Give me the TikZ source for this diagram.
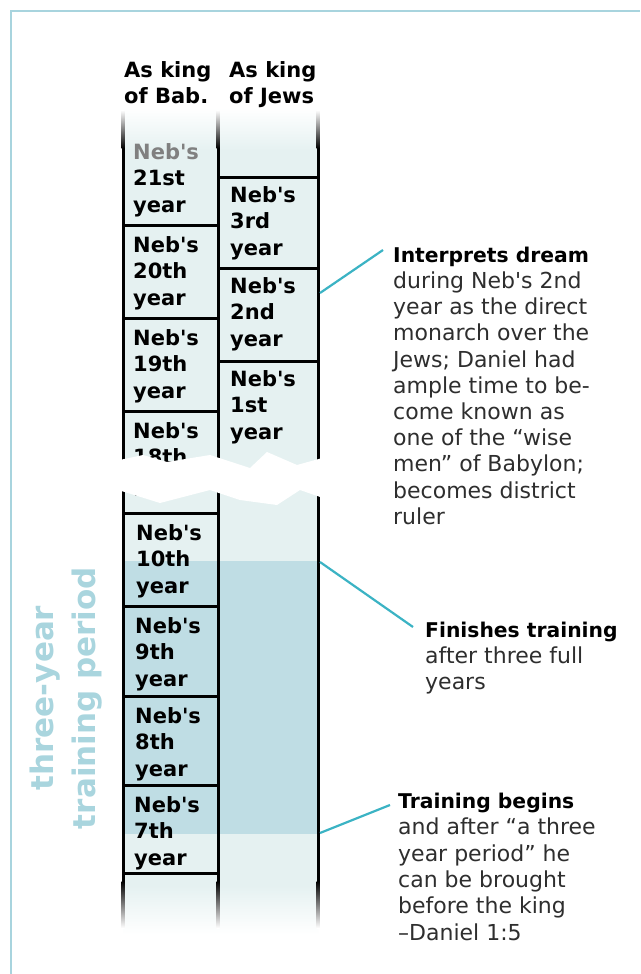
\documentclass[tikz,border=0pt]{standalone}
\usepackage{fontspec}
\setmainfont{DejaVu Sans}
\definecolor{colfill}{HTML}{E5F1F1}
\definecolor{trainfill}{HTML}{BFDDE4}
\definecolor{leadercol}{HTML}{3BB3C4}
\definecolor{labelblue}{HTML}{A9D5DE}
\definecolor{borderblue}{HTML}{A8D4DE}
\newcommand{\nebs}{Neb\textquotesingle s}
\newcommand{\annhead}[1]{{\color{black}\bfseries\fontsize{20.3}{26.2}\selectfont #1}}
\begin{document}
\begin{tikzpicture}[x=1pt,y=-1pt,
  colline/.style={line width=3pt, black},
  divline/.style={line width=3pt, black},
  boxtext/.style={anchor=north west, inner sep=0pt, align=left, font=\bfseries\fontsize{21}{26.5}\selectfont},
  headtext/.style={anchor=north west, inner sep=0pt, align=left, font=\bfseries\fontsize{21}{26}\selectfont},
  anntext/.style={anchor=north west, inner sep=0pt, align=left, font=\fontsize{22}{26.2}\selectfont, text=black!82},
  leaderline/.style={leadercol, line width=2.2pt},
  vlabel/.style={rotate=90, align=center, inner sep=0pt, text=labelblue, font=\bfseries\fontsize{31}{42}\selectfont}
]
\useasboundingbox (0,0) rectangle (640,974);
\fill[white] (0,0) rectangle (640,974);
\draw[borderblue, line width=2.5pt] (11,974) -- (11,11) -- (640,11);

% column fills
\fill[colfill] (123,150) rectangle (318,886);
\shade[top color=white, bottom color=colfill] (123,108) rectangle (318,150.5);
\shade[top color=colfill, bottom color=white] (123,885.5) rectangle (318,934);
\fill[trainfill] (123,561) rectangle (318,834);

% headers
\node[headtext] (hbab) at (124,58.8) {\strut As king\\of Bab.};
\node[headtext] (hjew) at (229,58.8) {\strut As king\\of Jews};

% dividers left column
\foreach \yy in {225,318,411,513,606,696,785,873}
  \draw[divline] (123,\yy) -- (218,\yy);
% dividers right column
\foreach \yy in {177,268,361}
  \draw[divline] (218,\yy) -- (318,\yy);

% left column texts
\node[boxtext] (b21) at (133,140.45) {\strut{\color{black!50}\nebs}\\21st\\year};
\node[boxtext] (b20) at (133,233.45) {\strut\nebs\\20th\\year};
\node[boxtext] (b19) at (133,326.45) {\strut\nebs\\19th\\year};
\node[boxtext] (b18) at (133,419.45) {\strut\nebs\\18th\\year};
\node[boxtext] (b10) at (136,521.45) {\strut\nebs\\10th\\year};
\node[boxtext] (b9) at (135,614.45) {\strut\nebs\\9th\\year};
\node[boxtext] (b8) at (135,704.45) {\strut\nebs\\8th\\year};
\node[boxtext] (b7) at (134,793.45) {\strut\nebs\\7th\\year};
% right column texts
\node[boxtext] (j3) at (230,183.45) {\strut\nebs\\3rd\\year};
\node[boxtext] (j2) at (230,274.45) {\strut\nebs\\2nd\\year};
\node[boxtext] (j1) at (230,367.45) {\strut\nebs\\1st\\year};

% vertical lines with fading ends
\foreach \xx in {123,218,318} {
  \draw[colline] (\xx,148) -- (\xx,882);
  \shade[top color=white, bottom color=black] (\xx-1.5,110) rectangle (\xx+1.5,148.5);
  \shade[top color=black, bottom color=white] (\xx-1.5,881.5) rectangle (\xx+1.5,928);
}

% jagged break
\fill[white] (115,461) -- (143,455) -- (167,462) -- (210,455) -- (250,468) -- (267,452)
  -- (297,465) -- (326,457) -- (326,499) -- (300,490) -- (277,505) -- (240,500)
  -- (210,490) -- (160,503) -- (115,489) -- cycle;

% annotations
\node[anntext] (ann1) at (393,243.66) {\strut\annhead{Interprets dream}\\during \nebs\ 2nd\\year as the direct\\monarch over the\\Jews; Daniel had\\ample time to be-\\come known as\\one of the “wise\\men” of Babylon;\\becomes district\\ruler};
\node[anntext] (ann2) at (425,618.66) {\strut\annhead{Finishes training}\\after three full\\years};
\node[anntext, font=\fontsize{22}{26.4}\selectfont] (ann3) at (398,789.52) {\strut\annhead{Training begins}\\and after “a three\\year period” he\\can be brought\\before the king\\–Daniel 1:5};

% leaders
\coordinate (l1a) at (320,293);
\coordinate (l1b) at (383,250);
\coordinate (l2a) at (320,562);
\coordinate (l2b) at (413,627);
\coordinate (l3a) at (320,833);
\coordinate (l3b) at (390,805);
\draw[leaderline] (l1a) -- (l1b);
\draw[leaderline] (l2a) -- (l2b);
\draw[leaderline] (l3a) -- (l3b);

% vertical label
\node[vlabel] (train) at (66,698) {three-year\\training period};
\end{tikzpicture}
\end{document}
